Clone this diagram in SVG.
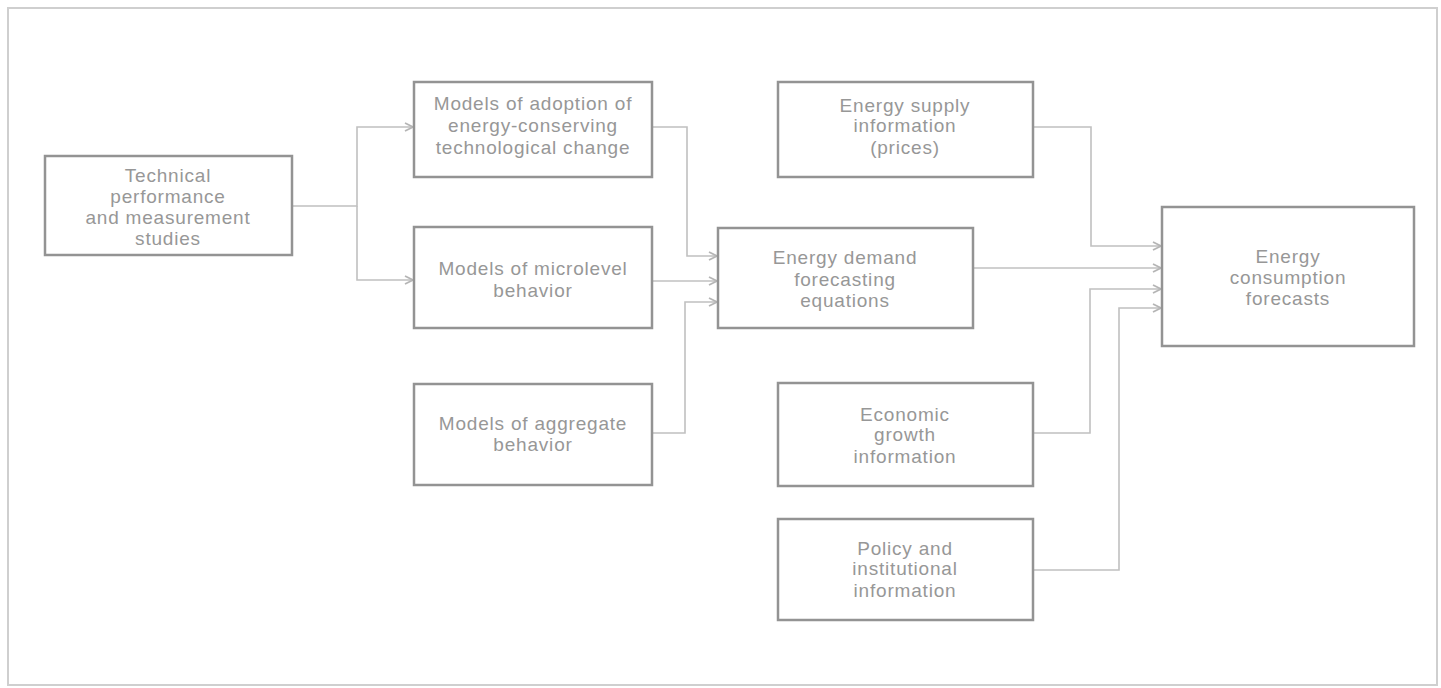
<svg xmlns="http://www.w3.org/2000/svg" width="1441" height="688" viewBox="0 0 1441 688">
<defs>
<style>
.box{fill:#fff;stroke:#939393;stroke-width:2.5}
.t{font-family:"Liberation Sans",Arial,sans-serif;font-size:19px;letter-spacing:0.8px;fill:#979797;text-anchor:middle}
.c{fill:none;stroke:#c0c0c0;stroke-width:1.6}
</style>
<marker id="ah" markerWidth="12" markerHeight="10" refX="10" refY="5" orient="auto" markerUnits="userSpaceOnUse">
<path d="M2,1 L10,5 L2,9" fill="none" stroke="#b5b5b5" stroke-width="1.8"/>
</marker>
</defs>
<rect x="0" y="0" width="1441" height="688" fill="#fff"/>
<rect x="8" y="8" width="1429" height="677" fill="none" stroke="#cfcfcf" stroke-width="2"/>

<g id="connectors">
<path class="c" d="M292,206 H357 V127 H413" marker-end="url(#ah)"/>
<path class="c" d="M357,206 V280 H413" marker-end="url(#ah)"/>
<path class="c" d="M652,127 H687 V256 H717" marker-end="url(#ah)"/>
<path class="c" d="M652,281 H717" marker-end="url(#ah)" stroke-width="2.2"/>
<path class="c" d="M652,433 H685 V302 H717" marker-end="url(#ah)"/>
<path class="c" d="M973,268 H1161" marker-end="url(#ah)" stroke-width="2"/>
<path class="c" d="M1033,127 H1091 V246 H1161" marker-end="url(#ah)"/>
<path class="c" d="M1033,433 H1090 V289 H1161" marker-end="url(#ah)"/>
<path class="c" d="M1033,570 H1119 V308 H1161" marker-end="url(#ah)"/>
</g>

<g id="technical">
<rect class="box" x="45" y="156" width="247" height="99"/>
<text class="t" x="168" y="182">Technical</text>
<text class="t" x="168" y="203">performance</text>
<text class="t" x="168" y="224">and measurement</text>
<text class="t" x="168" y="245">studies</text>
</g>

<g id="adoption">
<rect class="box" x="414" y="82" width="238" height="95"/>
<text class="t" x="533" y="110">Models of adoption of</text>
<text class="t" x="533" y="132">energy-conserving</text>
<text class="t" x="533" y="154">technological change</text>
</g>

<g id="microlevel">
<rect class="box" x="414" y="227" width="238" height="101"/>
<text class="t" x="533" y="275">Models of microlevel</text>
<text class="t" x="533" y="297">behavior</text>
</g>

<g id="aggregate">
<rect class="box" x="414" y="384" width="238" height="101"/>
<text class="t" x="533" y="430">Models of aggregate</text>
<text class="t" x="533" y="451">behavior</text>
</g>

<g id="demand">
<rect class="box" x="718" y="228" width="255" height="100"/>
<text class="t" x="845" y="264">Energy demand</text>
<text class="t" x="845" y="286">forecasting</text>
<text class="t" x="845" y="307">equations</text>
</g>

<g id="supply">
<rect class="box" x="778" y="82" width="255" height="95"/>
<text class="t" x="905" y="112">Energy supply</text>
<text class="t" x="905" y="132">information</text>
<text class="t" x="905" y="154">(prices)</text>
</g>

<g id="consumption">
<rect class="box" x="1162" y="207" width="252" height="139"/>
<text class="t" x="1288" y="263">Energy</text>
<text class="t" x="1288" y="284">consumption</text>
<text class="t" x="1288" y="305">forecasts</text>
</g>

<g id="economic">
<rect class="box" x="778" y="383" width="255" height="103"/>
<text class="t" x="905" y="421">Economic</text>
<text class="t" x="905" y="441">growth</text>
<text class="t" x="905" y="463">information</text>
</g>

<g id="policy">
<rect class="box" x="778" y="519" width="255" height="101"/>
<text class="t" x="905" y="555">Policy and</text>
<text class="t" x="905" y="575">institutional</text>
<text class="t" x="905" y="597">information</text>
</g>
</svg>
